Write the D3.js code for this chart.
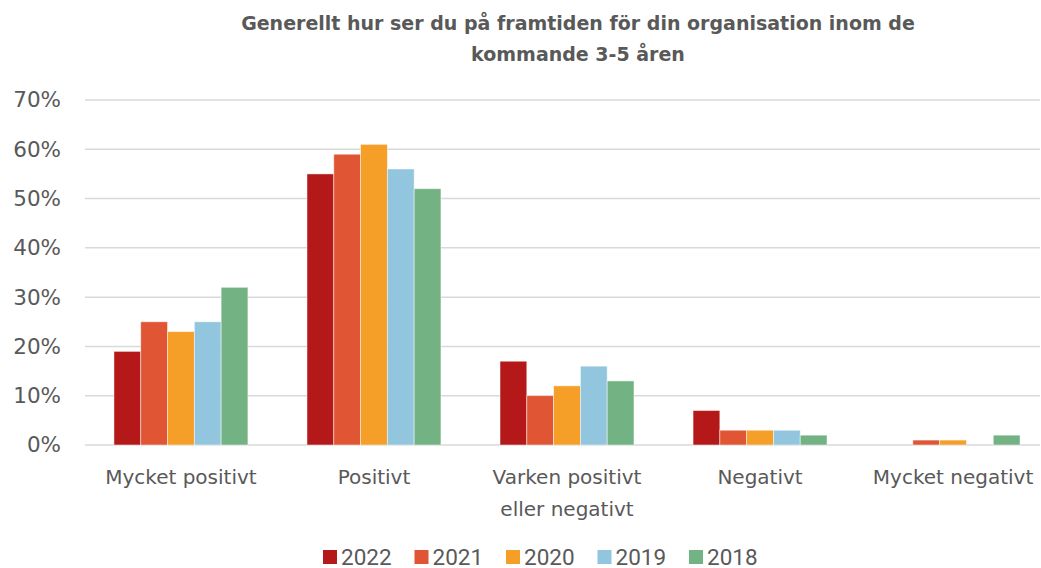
<!DOCTYPE html>
<html>
<head>
<meta charset="utf-8">
<script src="https://cdn.jsdelivr.net/npm/d3@7"></script>
<style>
  body { margin: 0; background: #fff; }
  .axis text { font-family: 'DejaVu Sans', sans-serif; fill: #595959; }
</style>
</head>
<body>
<div id="chart"></div>
<script>
const categories = ['Mycket positivt', 'Positivt', 'Varken positivt\neller negativt', 'Negativt', 'Mycket negativt']
const years = ['2022', '2021', '2020', '2019', '2018']
const values2022 = [19, 55, 17, 7, 0]
const values2021 = [25, 59, 10, 3, 1]
const values2020 = [23, 61, 12, 3, 1]
const values2019 = [25, 56, 16, 3, 0]
const values2018 = [32, 52, 13, 2, 2]
const yTicks = [0, 10, 20, 30, 40, 50, 60, 70]
const colors = ['#B41818', '#E05533', '#F59E28', '#92C6DE', '#72B283']

const series = [values2022, values2021, values2020, values2019, values2018]

const margin = { top: 100, left: 85, right: 1, bottom: 123 }
const width = 1041 - margin.left - margin.right
const height = 568 - margin.top - margin.bottom

const root = d3
  .select('#chart')
  .append('svg')
  .attr('width', 1041)
  .attr('height', 568)

const svg = root
  .append('g')
  .attr('transform', 'translate(' + margin.left + ',' + margin.top + ')')

// bands run a bit past the gridlines, like the original
const xPositionScale = d3
  .scaleBand()
  .domain(categories)
  .range([0, 964])
  .paddingInner(0.306)
  .paddingOuter(0.15)

const xInner = d3
  .scaleBand()
  .domain(years)
  .range([0, xPositionScale.bandwidth()])

const yPositionScale = d3
  .scaleLinear()
  .domain([0, 70])
  .range([height, 0])

// gridlines
svg
  .append('g')
  .selectAll('line')
  .data(yTicks)
  .enter()
  .append('line')
  .attr('x1', 0)
  .attr('x2', width)
  .attr('y1', d => yPositionScale(d))
  .attr('y2', d => yPositionScale(d))
  .attr('stroke', '#d9d9d9')
  .attr('stroke-width', 1.5)

const yAxis = d3
  .axisLeft(yPositionScale)
  .tickValues(yTicks)
  .tickFormat(d => d + '%')
  .tickSize(0)
  .tickPadding(24)
svg
  .append('g')
  .attr('class', 'axis y-axis')
  .call(yAxis)
  .call(g => g.select('.domain').remove())
  .selectAll('text')
  .attr('font-size', 21.5)

const groups = svg
  .selectAll('.group')
  .data(categories)
  .enter()
  .append('g')
  .attr('class', 'group')
  .attr('transform', d => 'translate(' + xPositionScale(d) + ',0)')

groups
  .selectAll('rect')
  .data((d, i) => years.map((y, j) => ({ year: y, value: series[j][i], color: colors[j] })))
  .enter()
  .append('rect')
  .attr('x', d => xInner(d.year))
  .attr('width', xInner.bandwidth())
  .attr('y', d => yPositionScale(d.value))
  .attr('height', d => height - yPositionScale(d.value))
  .attr('fill', d => d.color)
  .attr('stroke', '#fff')
  .attr('stroke-width', 0.8)
  .attr('stroke-opacity', 0.6)

// x axis labels
const xLabels = svg
  .append('g')
  .attr('class', 'axis x-axis')
  .selectAll('text')
  .data(categories)
  .enter()
  .append('text')
  .attr('x', d => xPositionScale(d) + xPositionScale.bandwidth() / 2)
  .attr('y', height + 39)
  .attr('text-anchor', 'middle')
  .attr('font-size', 20)

xLabels
  .selectAll('tspan')
  .data(d => d.split('\n'))
  .enter()
  .append('tspan')
  .attr('x', function() { return d3.select(this.parentNode).attr('x') })
  .attr('dy', (d, i) => (i === 0 ? 0 : 32))
  .text(d => d)

// title
root
  .append('text')
  .attr('x', 578)
  .attr('y', 30)
  .attr('text-anchor', 'middle')
  .attr('font-family', "'DejaVu Sans', sans-serif")
  .attr('font-weight', 'bold')
  .attr('font-size', 19)
  .attr('fill', '#595959')
  .selectAll('tspan')
  .data(['Generellt hur ser du på framtiden för din organisation inom de', 'kommande 3-5 åren'])
  .enter()
  .append('tspan')
  .attr('x', 578)
  .attr('dy', (d, i) => (i === 0 ? 0 : 31))
  .text(d => d)

// legend
const legend = root
  .append('g')
  .selectAll('g')
  .data(years)
  .enter()
  .append('g')
  .attr('transform', (d, i) => 'translate(' + (323 + i * 91.5) + ',550)')

legend
  .append('rect')
  .attr('width', 14)
  .attr('height', 14)
  .attr('fill', (d, i) => colors[i])

legend
  .append('text')
  .attr('x', 18)
  .attr('y', 14.5)
  .attr('font-family', 'Roboto, sans-serif')
  .attr('font-size', 22.5)
  .attr('fill', '#595959')
  .text(d => d)
</script>
</body>
</html>
